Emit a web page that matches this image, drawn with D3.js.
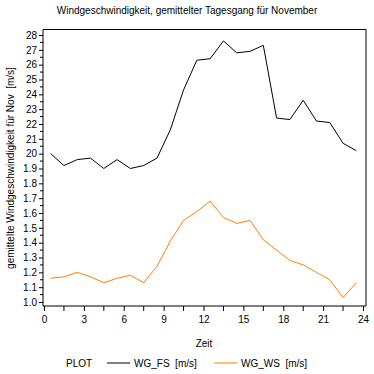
<!DOCTYPE html>
<html lang="de">
<head>
<meta charset="UTF-8">
<title>Windgeschwindigkeit Tagesgang November</title>
<style>
  html, body { margin: 0; padding: 0; background: #fff; }
  svg { display: block; }
  text { font-family: "Liberation Sans", Arial, sans-serif; fill: #000; white-space: pre; }
</style>
</head>
<body>
<svg id="chart" width="374" height="374"></svg>
<script src="https://d3js.org/d3.v7.min.js"></script>
<script>
// --- Daten ---
const hours = [0.5, 1.5, 2.5, 3.5, 4.5, 5.5, 6.5, 7.5, 8.5, 9.5, 10.5, 11.5,
               12.5, 13.5, 14.5, 15.5, 16.5, 17.5, 18.5, 19.5, 20.5, 21.5, 22.5, 23.5];
const wgFS = [2.00, 1.92, 1.96, 1.97, 1.90, 1.96, 1.90, 1.92, 1.97, 2.16, 2.43, 2.63,
              2.64, 2.76, 2.68, 2.69, 2.73, 2.24, 2.23, 2.36, 2.22, 2.21, 2.07, 2.02];
const wgWS = [1.16, 1.17, 1.20, 1.17, 1.13, 1.16, 1.18, 1.13, 1.24, 1.41, 1.55, 1.61,
              1.68, 1.57, 1.53, 1.55, 1.42, 1.35, 1.28, 1.25, 1.20, 1.15, 1.03, 1.13];
const yTicks = [1.0, 1.1, 1.2, 1.3, 1.4, 1.5, 1.6, 1.7, 1.8, 1.9,
                2.0, 2.1, 2.2, 2.3, 2.4, 2.5, 2.6, 2.7, 2.8];
const yTickLabels = ["1.0", "1.1", "1.2", "1.3", "1.4", "1.5", "1.6", "1.7", "1.8", "1.9",
                     "20", "21", "22", "23", "24", "25", "26", "27", "28"];
const xTicks = [0, 3, 6, 9, 12, 15, 18, 21, 24];
const seriesNames = ["WG_FS  [m/s]", "WG_WS  [m/s]"];
const seriesColors = ["#000000", "#ff8000"];

// --- Skalen ---
const x = d3.scaleLinear().domain([0, 24]).range([44, 363]);
const y = d3.scaleLinear().domain([1.0, 2.8]).range([302, 35]);

const svg = d3.select("#chart");
const frameL = 43, frameR = 366, frameT = 29.5, frameB = 306;

// Titel
svg.append("text")
  .attr("x", 187).attr("y", 14)
  .attr("text-anchor", "middle")
  .attr("font-size", 10)
  .text("Windgeschwindigkeit, gemittelter Tagesgang für November");

// Rahmen oben / rechts
svg.append("path")
  .attr("d", `M${frameL},${frameT}H${frameR}V${frameB}`)
  .attr("fill", "none").attr("stroke", "#000").attr("stroke-width", 1);

// Y-Achse
const yAxis = d3.axisLeft(y)
  .tickValues(yTicks)
  .tickSize(4)
  .tickPadding(2)
  .tickFormat((d, i) => yTickLabels[i]);
const gy = svg.append("g")
  .attr("transform", `translate(${frameL},0)`)
  .call(yAxis);
gy.select(".domain").attr("d", `M0,${frameT}V${frameB}`);
gy.selectAll("text").attr("font-size", 10).attr("font-family", "Liberation Sans, Arial, sans-serif");

// kleine Zwischenstriche
gy.selectAll(".minor")
  .data(yTicks.slice(0, -1).map(v => v + 0.05))
  .join("line")
  .attr("class", "minor")
  .attr("x1", -3).attr("x2", 0)
  .attr("y1", d => y(d)).attr("y2", d => y(d))
  .attr("stroke", "#000");

// X-Achse
const xAxis = d3.axisBottom(x)
  .tickValues(xTicks)
  .tickSize(5)
  .tickPadding(5);
const gx = svg.append("g")
  .attr("transform", `translate(0,${frameB})`)
  .call(xAxis);
gx.select(".domain").attr("d", `M${frameL},0H${frameR}`);
gx.selectAll("text").attr("font-size", 10).attr("font-family", "Liberation Sans, Arial, sans-serif");
gx.selectAll(".minor")
  .data(xTicks.slice(0, -1).map(v => v + 1.5))
  .join("line")
  .attr("class", "minor")
  .attr("y1", 0).attr("y2", 5)
  .attr("x1", d => x(d)).attr("x2", d => x(d))
  .attr("stroke", "#000");

// Achsentitel
svg.append("text")
  .attr("x", 204).attr("y", 347)
  .attr("text-anchor", "middle")
  .attr("font-size", 10)
  .text("Zeit");

svg.append("text")
  .attr("transform", "translate(14,168) rotate(-90)")
  .attr("text-anchor", "middle")
  .attr("font-size", 10)
  .text("gemittelte Windgeschwindigkeit für Nov  [m/s]");

// Linien
const line = d3.line().x((d, i) => x(hours[i])).y(d => y(d));
[wgFS, wgWS].forEach((vals, k) => {
  svg.append("path")
    .datum(vals)
    .attr("d", line)
    .attr("fill", "none")
    .attr("stroke", seriesColors[k])
    .attr("stroke-width", 1);
});

// Legende
const legY = 363;
svg.append("text")
  .attr("x", 66).attr("y", legY + 3.5)
  .attr("font-size", 10)
  .text("PLOT");
const legX = [107, 214];
seriesNames.forEach((name, k) => {
  svg.append("line")
    .attr("x1", legX[k]).attr("x2", legX[k] + 23)
    .attr("y1", legY).attr("y2", legY)
    .attr("stroke", seriesColors[k]);
  svg.append("text")
    .attr("x", legX[k] + 27).attr("y", legY + 3.5)
    .attr("font-size", 10)
    .text(name);
});
</script>
</body>
</html>
